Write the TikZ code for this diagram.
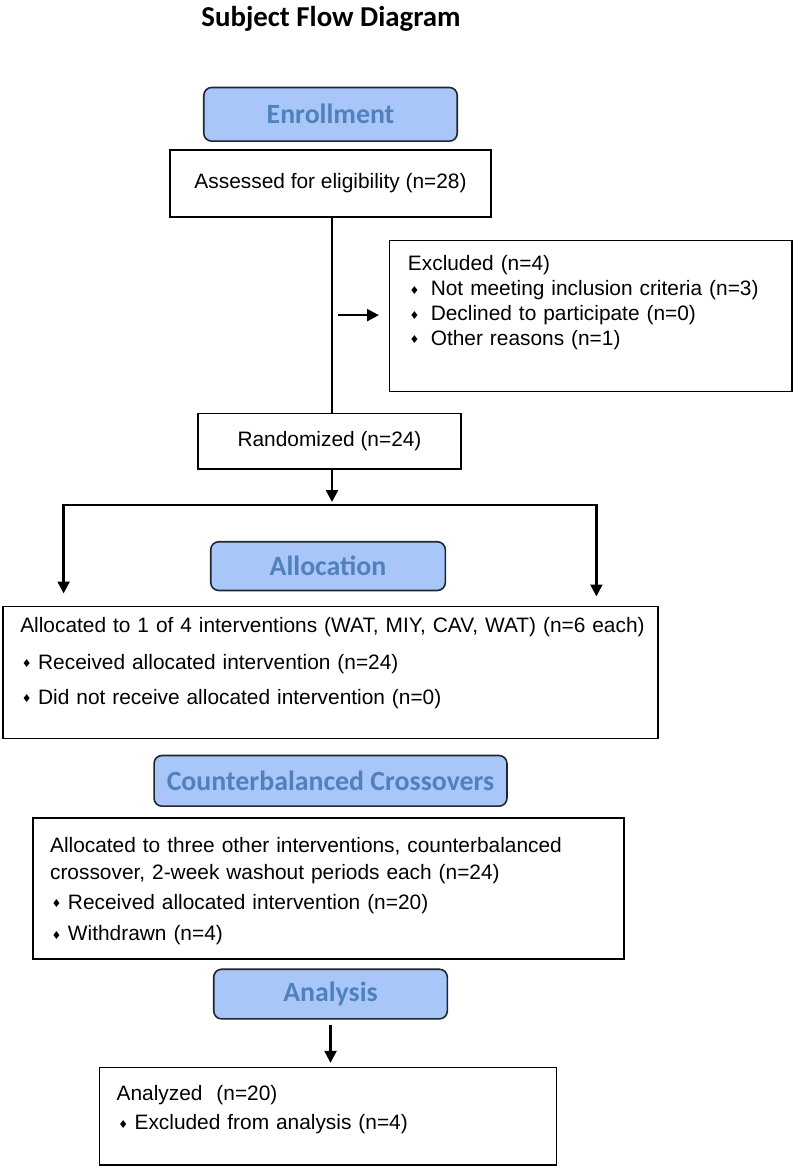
\documentclass[tikz,border=0pt]{standalone}
\usepackage{fontspec}
\setmainfont{Liberation Sans}
\newfontfamily\headfont{Carlito}
\newfontfamily\symfont{DejaVu Sans}
\usetikzlibrary{arrows.meta, positioning, calc}

\definecolor{phasefill}{HTML}{A9C6F8}
\definecolor{phasetext}{HTML}{4F81BD}
\definecolor{phaseline}{HTML}{1E2630}

\newcommand{\dia}[1][9pt]{\makebox[#1][l]{\hspace{0.8pt}\raisebox{0.8pt}{\symfont\fontsize{5.5}{5.5}\selectfont ♦}}}

\begin{document}
\begin{tikzpicture}[
		x=0.5pt, y=-0.5pt,
		phase/.style={draw=phaseline, fill=phasefill, rounded corners=4pt, line width=0.8pt,
				text=phasetext, inner sep=0pt, font=\headfont\bfseries\fontsize{14}{16}\selectfont},
		infobox/.style={draw, line width=0.8pt, inner sep=0pt, font=\fontsize{10.5}{12.5}\selectfont},
		infotext/.style={anchor=base west, align=left, inner sep=0pt, text width=#1,
				font=\fontsize{10.5}{12.5}\selectfont},
		trunk/.style={line width=1.2pt},
		link/.style={line width=1.2pt, -{Triangle[length=6pt, width=6pt]}}
	]
	\fill[white] (0,0) rectangle (800,1168);

	\node[anchor=base, font=\headfont\bfseries\fontsize{14.5}{17}\selectfont] (title) at (333,20) {Subject Flow Diagram};

	% enrollment
	\node[phase, minimum width=127.5pt, minimum height=27pt] (enrol) at (332.5,108) {Enrollment};
	\node[infobox, minimum width=161.5pt, minimum height=33.5pt] (assess) at (332.5,177.5) {Assessed for eligibility (n=28)};
	\node[infobox, minimum width=202.5pt, minimum height=76pt] (excl) at (594.5,311) {};
	\node[infotext=195pt] (excltxt) at (410,265.5) {Excluded (n=4)\\
		\dia[11.5pt]Not meeting inclusion criteria (n=3)\\
		\dia[11.5pt]Declined to participate (n=0)\\
		\dia[11.5pt]Other reasons (n=1)};
	\node[infobox, minimum width=132.5pt, minimum height=28pt] (rand) at (331.5,437) {Randomized (n=24)};

	% allocation
	\node[phase, minimum width=118pt, minimum height=24.5pt] (alloc) at (330,562.5) {Allocation};
	\node[infobox, minimum width=329.5pt, minimum height=66.5pt] (allocbox) at (332.5,669.5) {};
	\node[infotext=320pt] (alloctxt) at (20,629.5) {Allocated to 1 of 4 interventions (WAT, MIY, CAV, WAT) (n=6 each)\\[6pt]
		\dia Received allocated intervention (n=24)\\[5pt]
		\dia Did not receive allocated intervention (n=0)};

	% crossovers
	\node[phase, minimum width=177.5pt, minimum height=25.5pt] (cross) at (332.5,778.5) {Counterbalanced Crossovers};
	\node[infobox, minimum width=297.5pt, minimum height=71pt] (crossbox) at (330.5,887) {};
	\node[infotext=290pt] (crosstxt) at (50,850.5) {Allocated to three other interventions, counterbalanced\\[1pt]
		crossover, 2-week washout periods each (n=24)\\[2.5pt]
		\dia Received allocated intervention (n=20)\\[3.5pt]
		\dia Withdrawn (n=4)};

	% analysis
	\node[phase, minimum width=117.5pt, minimum height=25pt] (anlys) at (332.5,993) {Analysis};
	\node[infobox, minimum width=230pt, minimum height=49pt] (anbox) at (330,1116) {};
	\node[infotext=220pt] (antxt) at (117,1100.5) {Analyzed\ \ (n=20)\\[2pt]
		\dia Excluded from analysis (n=4)};

	% connectors
	\coordinate (tap) at (334,310);
	\coordinate (branch) at (334,501);
	\coordinate (dropL) at (64,590);
	\coordinate (dropR) at (600,593);

	\draw[trunk] (assess.south -| branch) -- (rand.north -| branch);
	\draw[link, shorten <=3pt, shorten >=5pt] (tap) -- (tap -| excl.west);
	\draw[link, shorten >=1.5pt] (rand.south -| branch) -- (branch);
	\draw[link] (branch) -| (dropL);
	\draw[link] (branch) -| (dropR);
	\draw[link, shorten <=2.5pt, shorten >=2pt] (anlys.south) -- (anlys.south |- anbox.north);
\end{tikzpicture}
\end{document}
